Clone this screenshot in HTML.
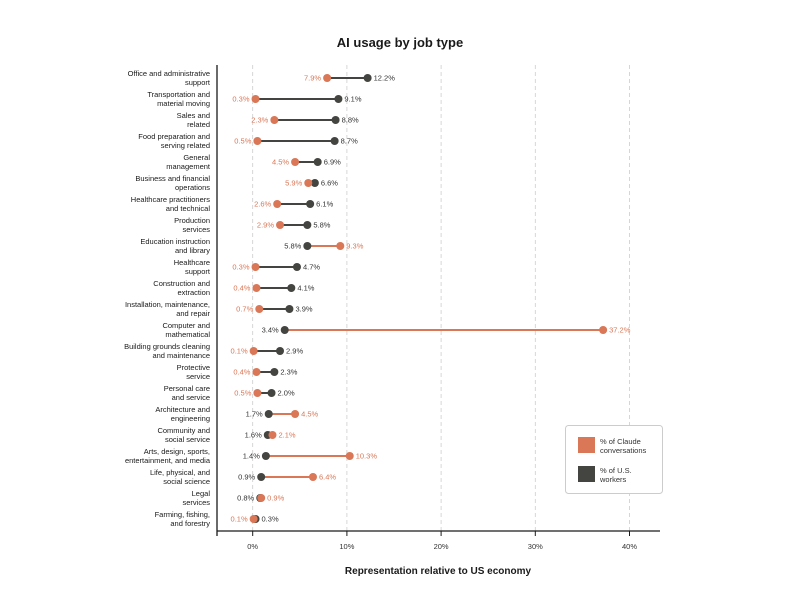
<!DOCTYPE html>
<html><head><meta charset="utf-8"><style>
html,body{margin:0;padding:0;background:#fff;}
svg{display:block;font-family:"Liberation Sans",sans-serif;}
</style></head><body>
<svg id="c" width="800" height="601" viewBox="0 0 800 601" xmlns="http://www.w3.org/2000/svg">
<rect width="800" height="601" fill="#fff"/>
<text x="400" y="47" text-anchor="middle" font-size="13" font-weight="bold" fill="#1a1a1a">AI usage by job type</text>
<text x="438" y="574" text-anchor="middle" font-size="10" font-weight="bold" fill="#1a1a1a">Representation relative to US economy</text>
<g id="g"></g>
<line x1="217" y1="65" x2="217" y2="536" stroke="#1a1a1a" stroke-width="1.3"/>
<line x1="217" y1="531" x2="660" y2="531" stroke="#1a1a1a" stroke-width="1.3"/>
<rect x="565.5" y="425.5" width="97" height="68" rx="3" fill="#fff" stroke="#ccc"/>
<rect x="578" y="437" width="17" height="16" fill="#d97757"/>
<rect x="578" y="466" width="17" height="16" fill="#444441"/>
<text x="600" y="444" font-size="7.5" fill="#333">% of Claude</text>
<text x="600" y="453" font-size="7.5" fill="#333">conversations</text>
<text x="600" y="473" font-size="7.5" fill="#333">% of U.S.</text>
<text x="600" y="482" font-size="7.5" fill="#333">workers</text>
</svg>
<script>
const d=[["Office and administrative|support",7.9,12.2],["Transportation and|material moving",0.3,9.1],["Sales and|related",2.3,8.8],["Food preparation and|serving related",0.5,8.7],["General|management",4.5,6.9],["Business and financial|operations",5.9,6.6],["Healthcare practitioners|and technical",2.6,6.1],["Production|services",2.9,5.8],["Education instruction|and library",9.3,5.8],["Healthcare|support",0.3,4.7],["Construction and|extraction",0.4,4.1],["Installation, maintenance,|and repair",0.7,3.9],["Computer and|mathematical",37.2,3.4],["Building grounds cleaning|and maintenance",0.1,2.9],["Protective|service",0.4,2.3],["Personal care|and service",0.5,2.0],["Architecture and|engineering",4.5,1.7],["Community and|social service",2.1,1.6],["Arts, design, sports,|entertainment, and media",10.3,1.4],["Life, physical, and|social science",6.4,0.9],["Legal|services",0.9,0.8],["Farming, fishing,|and forestry",0.1,0.3]];
const O="#d97757",K="#444441";
const X=v=>252.7+v*9.42;
let s="";
for(let i=0;i<=4;i++){const x=X(i*10);s+=`<line x1="${x}" y1="65" x2="${x}" y2="531" stroke="#ccc" stroke-dasharray="4,3" stroke-width="0.8"/><line x1="${x}" y1="531" x2="${x}" y2="536" stroke="#1a1a1a"/><text x="${x}" y="549" text-anchor="middle" font-size="7.5" fill="#333">${i*10}%</text>`;}
d.forEach((r,i)=>{const y=78+i*21;const [a,b]=r[0].split("|");
s+=`<text x="210" y="${y-2}" text-anchor="end" font-size="7.5" fill="#1a1a1a">${a}</text><text x="210" y="${y+7}" text-anchor="end" font-size="7.5" fill="#1a1a1a">${b}</text>`;
const xo=X(r[1]),xk=X(r[2]);const big=r[1]>r[2];
s+=`<line x1="${xo}" y1="${y}" x2="${xk}" y2="${y}" stroke="${big?O:K}" stroke-width="2"/>`;
s+=`<circle cx="${xk}" cy="${y}" r="4" fill="${K}"/><circle cx="${xo}" cy="${y}" r="4" fill="${O}"/>`;
const lo=big?xo+6:xo-6, lk=big?xk-6:xk+6;
s+=`<text x="${lo}" y="${y+2.7}" text-anchor="${big?'start':'end'}" font-size="7.5" fill="${O}">${r[1].toFixed(1)}%</text>`;
s+=`<text x="${lk}" y="${y+2.7}" text-anchor="${big?'end':'start'}" font-size="7.5" fill="#333">${r[2].toFixed(1)}%</text>`;
});
document.getElementById("g").innerHTML=s;
</script>
</body></html>
